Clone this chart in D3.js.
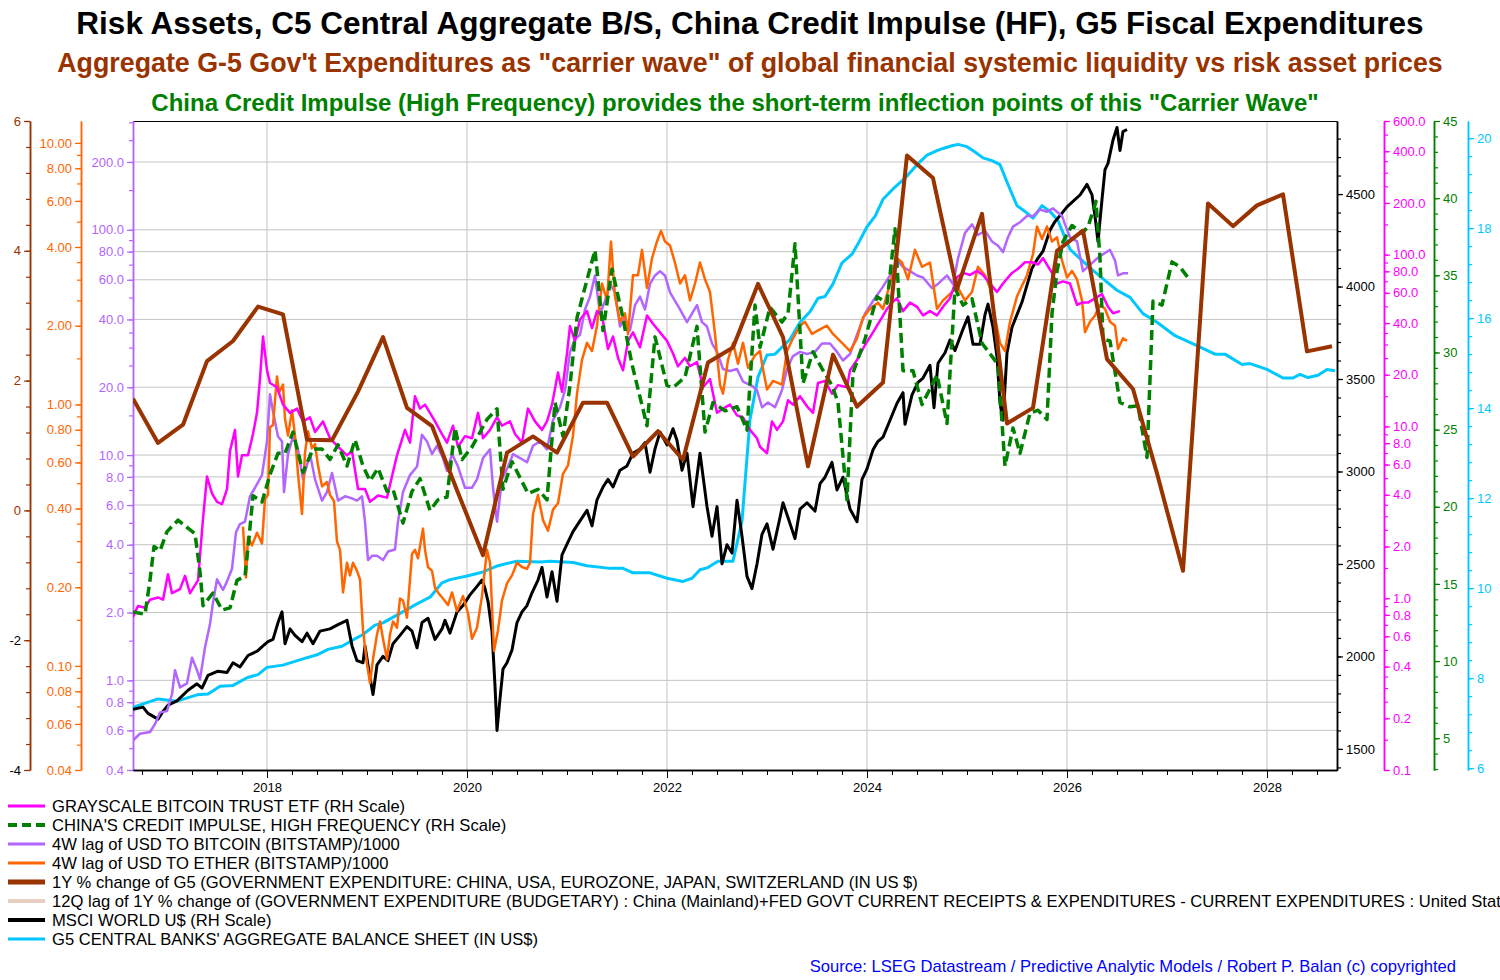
<!DOCTYPE html>
<html>
<head>
<meta charset="utf-8">
<script src="https://cdn.jsdelivr.net/npm/d3@7"></script>
<style>
body { margin: 0; background: #fff; }
text { font-family: "Liberation Sans", Arial, sans-serif; }
</style>
</head>
<body>
<script>
// dimensions
var W = 1500, H = 980;
var L = 133, R = 1337, T = 121, B = 770;

// ---- data (decimal year, value) ----
var yearLabels = [2018, 2020, 2022, 2024, 2026, 2028];

// 1Y % change of G5 government expenditure (left brown scale)
var fiscalG5 = [[2016.66,1.72],[2016.91,1.04],[2017.16,1.32],[2017.40,2.30],[2017.66,2.61],[2017.91,3.14],[2018.16,3.02],[2018.40,1.09],[2018.65,1.08],[2018.91,1.83],[2019.16,2.67],[2019.40,1.58],[2019.65,1.30],[2019.90,0.31],[2020.16,-0.69],[2020.40,0.89],[2020.66,1.14],[2020.90,0.89],[2021.16,1.66],[2021.40,1.66],[2021.66,0.83],[2021.91,1.22],[2022.16,0.78],[2022.41,2.28],[2022.66,2.51],[2022.91,3.49],[2023.16,2.67],[2023.41,0.68],[2023.66,2.40],[2023.90,1.60],[2024.16,1.97],[2024.40,5.47],[2024.66,5.12],[2024.90,3.41],[2025.15,4.57],[2025.40,1.34],[2025.66,1.58],[2025.90,4.00],[2026.16,4.31],[2026.40,2.33],[2026.66,1.87],[2026.90,0.57],[2027.16,-0.93],[2027.41,4.73],[2027.66,4.38],[2027.90,4.70],[2028.16,4.87],[2028.40,2.45],[2028.65,2.53]];

// G5 central banks' aggregate balance sheet (cyan scale)
var cbBalance = [[2016.66,7.35],[2016.91,7.54],[2017.10,7.49],[2017.30,7.63],[2017.41,7.65],[2017.53,7.82],[2017.66,7.84],[2017.80,8.01],[2017.91,8.08],[2018.00,8.24],[2018.16,8.29],[2018.36,8.43],[2018.50,8.52],[2018.61,8.64],[2018.75,8.71],[2018.86,8.85],[2018.96,8.97],[2019.08,9.18],[2019.16,9.23],[2019.33,9.44],[2019.50,9.65],[2019.63,9.80],[2019.75,10.12],[2019.83,10.19],[2020.00,10.27],[2020.16,10.36],[2020.31,10.50],[2020.50,10.60],[2020.73,10.58],[2020.83,10.60],[2021.06,10.57],[2021.20,10.50],[2021.43,10.44],[2021.56,10.44],[2021.66,10.34],[2021.83,10.34],[2022.00,10.22],[2022.16,10.15],[2022.25,10.22],[2022.33,10.41],[2022.40,10.45],[2022.51,10.60],[2022.66,10.60],[2022.75,11.49],[2022.83,13.75],[2022.91,14.69],[2023.00,15.18],[2023.08,15.20],[2023.23,15.53],[2023.33,15.91],[2023.43,16.14],[2023.51,16.44],[2023.58,16.48],[2023.66,16.76],[2023.75,17.23],[2023.85,17.42],[2023.91,17.65],[2024.00,18.03],[2024.08,18.26],[2024.16,18.64],[2024.26,18.87],[2024.38,19.11],[2024.50,19.41],[2024.60,19.62],[2024.70,19.72],[2024.76,19.77],[2024.85,19.83],[2024.91,19.86],[2025.00,19.81],[2025.08,19.69],[2025.16,19.56],[2025.25,19.50],[2025.33,19.41],[2025.41,18.97],[2025.50,18.50],[2025.58,18.37],[2025.66,18.22],[2025.75,18.50],[2025.83,18.37],[2025.91,18.17],[2025.98,17.79],[2026.03,17.53],[2026.13,17.32],[2026.26,17.06],[2026.40,16.80],[2026.50,16.62],[2026.63,16.46],[2026.76,16.10],[2026.90,15.91],[2027.08,15.61],[2027.30,15.39],[2027.48,15.20],[2027.58,15.20],[2027.75,14.97],[2027.83,14.99],[2028.00,14.86],[2028.16,14.67],[2028.26,14.67],[2028.33,14.75],[2028.41,14.68],[2028.51,14.73],[2028.60,14.86],[2028.68,14.83]];

// MSCI World U$ (black scale)
var msciWorld = [[2016.66,1714],[2016.76,1726],[2016.81,1692],[2016.91,1661],[2016.96,1703],[2017.01,1737],[2017.10,1760],[2017.21,1817],[2017.30,1852],[2017.35,1829],[2017.41,1898],[2017.51,1920],[2017.60,1913],[2017.66,1966],[2017.73,1943],[2017.81,2005],[2017.90,2028],[2017.96,2057],[2018.01,2080],[2018.06,2092],[2018.11,2183],[2018.15,2241],[2018.18,2069],[2018.23,2149],[2018.28,2114],[2018.35,2080],[2018.40,2126],[2018.46,2069],[2018.53,2137],[2018.63,2149],[2018.71,2172],[2018.80,2195],[2018.85,2057],[2018.90,1977],[2018.96,1966],[2018.98,2057],[2019.03,1886],[2019.06,1794],[2019.10,1954],[2019.16,2000],[2019.21,1977],[2019.26,2069],[2019.33,2114],[2019.40,2161],[2019.45,2137],[2019.50,2046],[2019.55,2183],[2019.61,2206],[2019.68,2092],[2019.75,2149],[2019.78,2195],[2019.83,2126],[2019.90,2241],[2019.96,2275],[2020.03,2333],[2020.10,2379],[2020.15,2413],[2020.18,2367],[2020.21,2298],[2020.25,2137],[2020.28,1841],[2020.30,1600],[2020.33,1772],[2020.36,1932],[2020.40,1966],[2020.45,2035],[2020.50,2183],[2020.55,2241],[2020.60,2275],[2020.65,2344],[2020.71,2413],[2020.75,2481],[2020.80,2321],[2020.85,2458],[2020.90,2298],[2020.95,2549],[2021.00,2607],[2021.06,2675],[2021.13,2733],[2021.20,2790],[2021.25,2706],[2021.30,2847],[2021.36,2916],[2021.41,2957],[2021.46,2916],[2021.53,3007],[2021.60,3030],[2021.66,3099],[2021.73,3122],[2021.78,3156],[2021.83,2996],[2021.88,3122],[2021.93,3213],[2022.00,3144],[2022.06,3231],[2022.10,3167],[2022.15,3007],[2022.20,3099],[2022.26,2810],[2022.33,3099],[2022.40,2810],[2022.45,2650],[2022.50,2810],[2022.55,2501],[2022.60,2604],[2022.65,2559],[2022.70,2844],[2022.75,2650],[2022.80,2433],[2022.85,2367],[2022.90,2500],[2022.95,2660],[2023.00,2717],[2023.06,2580],[2023.13,2751],[2023.16,2831],[2023.21,2751],[2023.28,2637],[2023.33,2797],[2023.40,2831],[2023.48,2786],[2023.53,2934],[2023.58,2969],[2023.65,3049],[2023.70,2900],[2023.76,2969],[2023.83,2797],[2023.90,2728],[2023.95,2957],[2024.00,3014],[2024.06,3117],[2024.11,3163],[2024.16,3186],[2024.23,3277],[2024.30,3369],[2024.36,3426],[2024.38,3255],[2024.45,3414],[2024.51,3482],[2024.56,3505],[2024.63,3574],[2024.67,3345],[2024.71,3585],[2024.78,3642],[2024.83,3711],[2024.88,3654],[2024.95,3756],[2025.01,3836],[2025.06,3688],[2025.13,3688],[2025.18,3848],[2025.21,3905],[2025.26,3780],[2025.30,3619],[2025.33,3369],[2025.36,3277],[2025.40,3642],[2025.45,3780],[2025.50,3848],[2025.55,3916],[2025.60,4008],[2025.65,4099],[2025.70,4145],[2025.76,4191],[2025.83,4305],[2025.88,4351],[2025.95,4397],[2026.00,4431],[2026.06,4460],[2026.13,4495],[2026.20,4552],[2026.25,4495],[2026.28,4380],[2026.31,4243],[2026.35,4471],[2026.38,4632],[2026.41,4666],[2026.46,4792],[2026.50,4860],[2026.53,4735],[2026.56,4838],[2026.60,4849]];

// China credit impulse, high frequency (green scale)
var creditImpulse = [[2016.66,13.18],[2016.78,13.04],[2016.83,15.23],[2016.87,17.43],[2016.93,17.15],[2017.00,18.39],[2017.11,19.13],[2017.20,18.66],[2017.28,18.25],[2017.33,15.78],[2017.36,13.59],[2017.46,14.41],[2017.55,13.31],[2017.63,13.45],[2017.70,15.23],[2017.78,15.51],[2017.82,17.97],[2017.86,20.72],[2017.95,20.31],[2018.03,22.09],[2018.11,23.46],[2018.18,23.46],[2018.26,24.84],[2018.36,22.23],[2018.46,23.74],[2018.55,23.74],[2018.63,23.06],[2018.71,24.02],[2018.80,22.64],[2018.88,24.35],[2018.96,22.64],[2019.03,21.68],[2019.11,22.50],[2019.20,21.00],[2019.26,21.13],[2019.36,18.94],[2019.45,21.00],[2019.53,21.82],[2019.63,19.76],[2019.71,20.45],[2019.80,20.63],[2019.88,25.11],[2019.95,23.06],[2020.05,23.88],[2020.20,25.66],[2020.30,26.35],[2020.36,21.13],[2020.45,22.92],[2020.61,20.86],[2020.71,21.13],[2020.80,20.45],[2020.88,26.76],[2020.96,24.57],[2021.03,27.86],[2021.10,32.25],[2021.20,34.71],[2021.28,36.63],[2021.36,31.42],[2021.45,35.40],[2021.55,32.52],[2021.65,29.23],[2021.80,25.25],[2021.88,31.01],[2022.00,27.86],[2022.06,27.72],[2022.18,28.40],[2022.30,31.69],[2022.38,24.84],[2022.46,26.76],[2022.58,26.21],[2022.70,26.48],[2022.80,24.97],[2022.88,33.07],[2022.93,30.33],[2023.03,32.93],[2023.15,31.97],[2023.21,32.52],[2023.28,37.05],[2023.36,27.99],[2023.46,30.05],[2023.55,28.95],[2023.65,27.86],[2023.71,26.76],[2023.80,20.45],[2023.86,28.68],[2023.98,30.87],[2024.10,33.62],[2024.20,33.20],[2024.28,38.01],[2024.36,28.82],[2024.46,28.82],[2024.55,26.62],[2024.70,28.54],[2024.80,25.39],[2024.88,34.16],[2024.96,33.07],[2025.05,33.48],[2025.15,30.60],[2025.23,29.91],[2025.31,29.23],[2025.38,22.64],[2025.46,25.11],[2025.53,23.46],[2025.63,26.07],[2025.71,26.26],[2025.80,25.66],[2025.85,32.52],[2025.90,35.27],[2025.96,37.18],[2026.05,38.23],[2026.15,37.73],[2026.21,38.14],[2026.29,39.79],[2026.33,36.09],[2026.36,30.87],[2026.43,30.74],[2026.53,26.76],[2026.63,26.48],[2026.71,26.54],[2026.80,23.19],[2026.86,33.33],[2026.95,33.07],[2027.05,35.87],[2027.13,35.54],[2027.21,34.85]];

// Grayscale Bitcoin Trust ETF (magenta log scale)
var gbtc = [[2016.66,0.78],[2016.71,0.90],[2016.78,0.88],[2016.83,0.98],[2016.91,1.01],[2016.96,0.98],[2017.01,1.38],[2017.05,1.07],[2017.13,1.13],[2017.18,1.35],[2017.23,1.07],[2017.31,1.27],[2017.36,2.90],[2017.40,5.11],[2017.45,4.07],[2017.50,3.64],[2017.55,3.53],[2017.60,4.32],[2017.63,7.19],[2017.68,9.55],[2017.71,5.11],[2017.75,6.79],[2017.81,6.79],[2017.86,9.03],[2017.90,12.0],[2017.93,18.9],[2017.96,33.4],[2018.00,21.2],[2018.03,17.9],[2018.10,16.9],[2018.16,13.4],[2018.23,12.0],[2018.30,12.7],[2018.36,10.7],[2018.43,11.3],[2018.48,9.29],[2018.56,10.7],[2018.63,8.53],[2018.71,7.62],[2018.80,6.79],[2018.85,7.19],[2018.91,4.32],[2018.98,4.32],[2019.03,3.64],[2019.11,3.96],[2019.20,3.85],[2019.26,5.42],[2019.30,6.79],[2019.38,9.55],[2019.43,8.05],[2019.48,15.0],[2019.53,12.7],[2019.58,13.4],[2019.63,12.0],[2019.68,10.7],[2019.75,9.03],[2019.80,8.05],[2019.86,10.1],[2019.91,7.62],[2019.98,8.78],[2020.05,8.53],[2020.11,12.0],[2020.16,8.53],[2020.23,9.55],[2020.30,11.3],[2020.35,10.1],[2020.43,10.7],[2020.48,9.03],[2020.55,8.05],[2020.61,12.7],[2020.68,10.7],[2020.75,9.55],[2020.80,10.7],[2020.85,13.4],[2020.91,20.6],[2020.95,15.9],[2021.00,26.6],[2021.03,38.4],[2021.08,31.5],[2021.13,41.9],[2021.20,46.9],[2021.25,37.4],[2021.30,46.9],[2021.35,44.3],[2021.41,28.2],[2021.46,33.4],[2021.51,25.1],[2021.56,21.2],[2021.61,31.5],[2021.66,35.3],[2021.73,28.9],[2021.80,44.3],[2021.86,39.6],[2021.93,35.3],[2022.00,31.5],[2022.06,26.6],[2022.11,22.4],[2022.18,25.1],[2022.23,22.4],[2022.30,23.7],[2022.36,16.9],[2022.43,18.9],[2022.50,12.0],[2022.56,12.7],[2022.63,13.4],[2022.70,11.6],[2022.76,11.3],[2022.83,9.55],[2022.90,8.53],[2022.93,7.62],[2023.00,6.98],[2023.05,10.7],[2023.10,9.55],[2023.16,10.7],[2023.21,14.2],[2023.26,13.4],[2023.33,15.0],[2023.40,13.1],[2023.46,12.0],[2023.51,17.9],[2023.58,18.4],[2023.65,15.5],[2023.71,17.4],[2023.80,16.9],[2023.83,21.2],[2023.90,24.4],[2023.98,29.8],[2024.06,35.3],[2024.15,43.1],[2024.20,48.3],[2024.25,52.6],[2024.30,55.7],[2024.36,46.9],[2024.43,52.6],[2024.50,49.7],[2024.56,44.3],[2024.63,46.9],[2024.70,44.3],[2024.76,49.7],[2024.83,55.7],[2024.90,73.9],[2024.96,78.3],[2025.03,76.2],[2025.10,80.5],[2025.16,76.2],[2025.23,67.9],[2025.30,60.7],[2025.36,67.9],[2025.45,78.3],[2025.51,82.8],[2025.58,90.3],[2025.65,90.3],[2025.71,87.7],[2025.76,95.5],[2025.85,78.3],[2025.90,67.9],[2025.96,69.9],[2026.03,67.9],[2026.10,51.1],[2026.15,52.6],[2026.21,52.6],[2026.28,55.7],[2026.35,58.9],[2026.41,49.7],[2026.46,45.6],[2026.53,46.9]];

// 4W lag of USD to Bitcoin /1000 (purple log scale)
var btc = [[2016.66,0.54],[2016.73,0.58],[2016.83,0.59],[2016.88,0.64],[2016.93,0.72],[2017.00,0.73],[2017.05,0.87],[2017.08,1.11],[2017.13,0.93],[2017.20,0.97],[2017.25,1.26],[2017.30,1.11],[2017.33,1.01],[2017.38,1.40],[2017.43,1.78],[2017.46,2.21],[2017.50,2.81],[2017.56,2.52],[2017.60,2.75],[2017.65,3.13],[2017.69,4.54],[2017.73,4.94],[2017.78,5.06],[2017.83,6.56],[2017.88,7.16],[2017.95,8.15],[2018.00,11.5],[2018.03,18.6],[2018.06,15.6],[2018.11,12.1],[2018.15,11.5],[2018.17,6.85],[2018.21,10.1],[2018.26,12.1],[2018.31,10.6],[2018.36,7.80],[2018.43,10.1],[2018.48,7.80],[2018.55,6.28],[2018.60,6.85],[2018.65,8.33],[2018.71,6.28],[2018.78,6.56],[2018.85,6.42],[2018.90,6.28],[2018.95,6.56],[2018.98,5.06],[2019.01,3.42],[2019.05,3.57],[2019.10,3.57],[2019.16,3.42],[2019.21,3.73],[2019.28,3.81],[2019.31,5.06],[2019.36,6.85],[2019.43,8.15],[2019.50,8.89],[2019.55,12.3],[2019.60,11.5],[2019.65,10.1],[2019.70,11.0],[2019.76,9.70],[2019.80,8.51],[2019.85,10.1],[2019.91,8.89],[2019.98,7.16],[2020.05,7.16],[2020.10,7.80],[2020.16,9.70],[2020.23,10.6],[2020.26,7.16],[2020.30,5.06],[2020.35,7.80],[2020.41,8.89],[2020.46,10.1],[2020.53,9.70],[2020.60,9.29],[2020.66,11.0],[2020.73,11.5],[2020.80,10.6],[2020.86,14.3],[2020.93,16.3],[2020.98,19.4],[2021.03,28.7],[2021.08,32.7],[2021.13,34.2],[2021.18,44.3],[2021.23,50.5],[2021.28,62.7],[2021.33,42.4],[2021.38,48.3],[2021.43,57.5],[2021.48,52.7],[2021.53,37.2],[2021.58,40.6],[2021.63,35.7],[2021.68,46.3],[2021.73,50.5],[2021.78,44.3],[2021.83,57.5],[2021.88,62.7],[2021.93,65.5],[2021.98,62.7],[2022.03,52.7],[2022.08,48.3],[2022.13,44.3],[2022.20,38.9],[2022.25,42.4],[2022.30,46.3],[2022.35,38.9],[2022.40,37.2],[2022.45,31.3],[2022.50,28.7],[2022.56,24.1],[2022.63,23.6],[2022.70,24.1],[2022.76,21.2],[2022.85,20.3],[2022.90,19.4],[2022.95,16.3],[2023.01,17.1],[2023.08,16.3],[2023.15,19.4],[2023.20,24.1],[2023.26,27.5],[2023.33,28.7],[2023.40,28.1],[2023.48,28.7],[2023.55,31.3],[2023.63,31.3],[2023.70,28.7],[2023.76,26.3],[2023.83,28.1],[2023.90,34.2],[2023.98,42.4],[2024.06,48.3],[2024.15,55.1],[2024.23,62.7],[2024.30,73.1],[2024.36,68.4],[2024.43,65.5],[2024.50,62.7],[2024.56,61.4],[2024.65,55.1],[2024.71,57.5],[2024.80,62.7],[2024.86,57.5],[2024.91,74.6],[2024.98,96.9],[2025.05,105.7],[2025.11,94.8],[2025.18,99.0],[2025.25,88.8],[2025.31,85.0],[2025.36,79.6],[2025.41,92.7],[2025.46,103.3],[2025.53,108.0],[2025.60,115.2],[2025.66,115.0],[2025.73,123.0],[2025.80,120.3],[2025.86,124.5],[2025.95,115.2],[2025.98,105.7],[2026.03,92.7],[2026.10,88.8],[2026.16,65.5],[2026.23,69.9],[2026.30,74.6],[2026.36,77.9],[2026.43,81.4],[2026.48,73.1],[2026.51,62.7],[2026.56,64.1],[2026.61,64.1]];

// 4W lag of USD to Ether /1000 (orange log scale)
var eth = [[2017.76,0.341],[2017.79,0.218],[2017.81,0.311],[2017.85,0.289],[2017.90,0.323],[2017.95,0.294],[2017.98,0.435],[2018.01,0.451],[2018.03,0.818],[2018.06,0.834],[2018.10,1.28],[2018.12,1.11],[2018.16,1.19],[2018.18,0.881],[2018.21,0.760],[2018.25,0.949],[2018.28,0.760],[2018.31,0.543],[2018.35,0.381],[2018.38,0.654],[2018.41,0.789],[2018.45,0.679],[2018.48,0.705],[2018.51,0.585],[2018.55,0.486],[2018.60,0.505],[2018.63,0.451],[2018.67,0.427],[2018.70,0.299],[2018.73,0.278],[2018.76,0.191],[2018.80,0.248],[2018.83,0.222],[2018.86,0.248],[2018.90,0.231],[2018.93,0.214],[2018.96,0.137],[2019.00,0.102],[2019.03,0.086],[2019.06,0.106],[2019.10,0.132],[2019.13,0.148],[2019.16,0.127],[2019.20,0.106],[2019.23,0.132],[2019.26,0.148],[2019.30,0.140],[2019.33,0.181],[2019.36,0.178],[2019.40,0.153],[2019.45,0.268],[2019.48,0.278],[2019.51,0.258],[2019.56,0.335],[2019.58,0.278],[2019.61,0.239],[2019.65,0.231],[2019.68,0.199],[2019.71,0.191],[2019.76,0.181],[2019.81,0.171],[2019.85,0.191],[2019.90,0.162],[2019.96,0.185],[2020.01,0.159],[2020.05,0.127],[2020.10,0.140],[2020.15,0.185],[2020.20,0.278],[2020.23,0.248],[2020.27,0.114],[2020.31,0.137],[2020.35,0.178],[2020.40,0.207],[2020.45,0.222],[2020.50,0.248],[2020.55,0.239],[2020.60,0.235],[2020.63,0.248],[2020.66,0.381],[2020.71,0.451],[2020.76,0.361],[2020.81,0.329],[2020.86,0.396],[2020.91,0.419],[2020.96,0.543],[2021.01,0.585],[2021.06,0.760],[2021.10,1.10],[2021.15,1.48],[2021.20,1.72],[2021.25,1.60],[2021.30,2.00],[2021.35,2.90],[2021.40,2.50],[2021.44,4.20],[2021.48,2.59],[2021.53,2.07],[2021.58,2.23],[2021.61,1.86],[2021.66,3.12],[2021.71,3.12],[2021.75,3.90],[2021.80,2.79],[2021.85,3.62],[2021.90,4.20],[2021.94,4.61],[2021.98,4.20],[2022.03,4.05],[2022.08,3.48],[2022.13,2.90],[2022.18,3.12],[2022.23,2.50],[2022.28,2.90],[2022.33,3.49],[2022.38,3.01],[2022.43,2.69],[2022.48,1.86],[2022.53,1.19],[2022.56,1.10],[2022.61,1.48],[2022.66,1.72],[2022.71,1.43],[2022.76,1.72],[2022.81,1.38],[2022.88,1.54],[2022.93,1.60],[2022.95,1.43],[2023.00,1.14],[2023.06,1.23],[2023.15,1.19],[2023.20,1.60],[2023.26,1.79],[2023.33,2.00],[2023.38,2.07],[2023.45,1.86],[2023.51,1.92],[2023.60,2.00],[2023.66,1.86],[2023.75,1.72],[2023.83,1.60],[2023.90,1.79],[2023.96,2.15],[2024.03,2.32],[2024.11,2.45],[2024.16,2.32],[2024.23,2.90],[2024.30,3.62],[2024.35,3.49],[2024.41,3.01],[2024.48,3.90],[2024.55,3.36],[2024.63,3.49],[2024.70,2.32],[2024.76,2.50],[2024.85,2.69],[2024.91,2.79],[2024.98,2.50],[2025.05,2.69],[2025.11,3.36],[2025.18,3.12],[2025.23,2.79],[2025.28,2.15],[2025.33,1.72],[2025.38,1.60],[2025.43,2.07],[2025.50,2.59],[2025.60,3.12],[2025.66,3.76],[2025.70,4.79],[2025.75,4.29],[2025.80,4.79],[2025.85,4.20],[2025.90,4.36],[2025.95,3.56],[2026.00,3.06],[2026.05,3.24],[2026.10,3.01],[2026.15,2.50],[2026.18,1.89],[2026.23,2.07],[2026.28,2.19],[2026.33,2.40],[2026.38,2.32],[2026.43,2.07],[2026.48,2.00],[2026.51,1.63],[2026.56,1.79],[2026.60,1.75]];

// axis tick labels
var brownTicks = [-4, -2, 0, 2, 4, 6];
var ethTicks = [0.04, 0.06, 0.08, 0.1, 0.2, 0.4, 0.6, 0.8, 1, 2, 4, 6, 8, 10];
var btcTicks = [0.4, 0.6, 0.8, 1, 2, 4, 6, 8, 10, 20, 40, 60, 80, 100, 200];
var msciTicks = [1500, 2000, 2500, 3000, 3500, 4000, 4500];
var gbtcTicks = [0.1, 0.2, 0.4, 0.6, 0.8, 1, 2, 4, 6, 8, 10, 20, 40, 60, 80, 100, 200, 400, 600];
var ciTicks = [5, 10, 15, 20, 25, 30, 35, 40, 45];
var cbTicks = [6, 8, 10, 12, 14, 16, 18, 20];

var legendLabels = [
  "GRAYSCALE BITCOIN TRUST ETF (RH Scale)",
  "CHINA'S CREDIT IMPULSE, HIGH FREQUENCY (RH Scale)",
  "4W lag of USD TO BITCOIN (BITSTAMP)/1000",
  "4W lag of USD TO ETHER (BITSTAMP)/1000",
  "1Y % change of G5 (GOVERNMENT EXPENDITURE: CHINA, USA, EUROZONE, JAPAN, SWITZERLAND (IN US $)",
  "12Q lag of 1Y % change of (GOVERNMENT EXPENDITURE (BUDGETARY) : China (Mainland)+FED GOVT CURRENT RECEIPTS & EXPENDITURES - CURRENT EXPENDITURES : United States",
  "MSCI WORLD U$ (RH Scale)",
  "G5 CENTRAL BANKS' AGGREGATE BALANCE SHEET (IN US$)"
];

// colours
var cMag = "#ff00ff", cGreen = "#008000", cPurple = "#b366ff", cOrange = "#ff6600",
    cBrown = "#993300", cBeige = "#e6cfc0", cBlack = "#000000", cCyan = "#00c8ff";
var legendStyle = [
  {c: cMag, w: 3}, {c: cGreen, w: 4, dash: "9,5"}, {c: cPurple, w: 3}, {c: cOrange, w: 3},
  {c: cBrown, w: 5}, {c: cBeige, w: 4}, {c: cBlack, w: 4}, {c: cCyan, w: 3}
];

var svg = d3.select("body").append("svg").attr("width", W).attr("height", H);
svg.append("rect").attr("width", W).attr("height", H).attr("fill", "#fff");

// scales
var x = d3.scaleLinear().domain([2016.66, 2028.70]).range([L, R]);
var yBrown = d3.scaleLinear().domain([-4, 6]).range([B, T]);
var yEth = d3.scaleLog().domain([0.04, 12.13]).range([B, T]);
var yBtc = d3.scaleLog().domain([0.4, 304]).range([B, T]);
var yMsci = d3.scaleLinear().domain([1386, 4895]).range([B, T]);
var yGbtc = d3.scaleLog().domain([0.1, 600]).range([B, T]);
var yCi = d3.scaleLinear().domain([2.94, 45]).range([B, T]);
var yCb = d3.scaleLinear().domain([5.96, 20.38]).range([B, T]);

// titles
svg.append("text").attr("x", 750).attr("y", 34).attr("text-anchor", "middle")
  .attr("font-size", "31.5px").attr("font-weight", "bold").attr("fill", "#000")
  .text("Risk Assets, C5 Central Aggregate B/S, China Credit Impulse (HF), G5 Fiscal Expenditures");
svg.append("text").attr("x", 750).attr("y", 72).attr("text-anchor", "middle")
  .attr("font-size", "26.8px").attr("font-weight", "bold").attr("fill", cBrown)
  .text("Aggregate G-5 Gov't Expenditures as \"carrier wave\" of global financial systemic liquidity vs risk asset prices");
svg.append("text").attr("x", 735).attr("y", 111).attr("text-anchor", "middle")
  .attr("font-size", "24px").attr("font-weight", "bold").attr("fill", cGreen)
  .text("China Credit Impulse (High Frequency) provides the short-term inflection points of this \"Carrier Wave\"");

// grid
var grid = svg.append("g");
grid.selectAll("line.h").data(btcTicks.filter(function(d) { return d > 0.4; })).enter()
  .append("line").attr("x1", L).attr("x2", R)
  .attr("y1", function(d) { return yBtc(d); }).attr("y2", function(d) { return yBtc(d); })
  .attr("stroke", "#c4c4c4").attr("stroke-width", 1);
grid.selectAll("line.v").data(yearLabels).enter()
  .append("line").attr("y1", T).attr("y2", B)
  .attr("x1", function(d) { return x(d); }).attr("x2", function(d) { return x(d); })
  .attr("stroke", "#c4c4c4").attr("stroke-width", 1);

// frame top
svg.append("line").attr("x1", L).attr("x2", R).attr("y1", T + 0.5).attr("y2", T + 0.5).attr("stroke", "#000");

// generic vertical axis
function vAxis(scale, xPos, side, major, minor, fmt, color, labelColor) {
  var mk = side === "left" ? d3.axisLeft : d3.axisRight;
  var g = svg.append("g").attr("transform", "translate(" + xPos + ",0)");
  g.append("g").call(mk(scale).tickValues(minor).tickSize(4).tickSizeOuter(0).tickFormat(""));
  var gm = g.append("g").call(mk(scale).tickValues(major).tickSize(6).tickSizeOuter(0).tickPadding(3).tickFormat(fmt));
  g.selectAll("path.domain").attr("stroke", color).attr("stroke-width", 1.5);
  g.selectAll(".tick line").attr("stroke", color).attr("stroke-width", 1.2);
  gm.selectAll(".tick text").attr("font-size", "13px")
    .attr("font-family", "'Liberation Sans', Arial, sans-serif")
    .attr("fill", labelColor || color);
  return gm;
}
function logMinor(lo, hi) {
  var out = [];
  for (var e = -2; e <= 3; e++) {
    [1, 1.5, 2, 2.5, 3, 3.5, 4, 5, 6, 7, 8, 9].forEach(function(m) {
      var v = m * Math.pow(10, e);
      if (v >= lo && v <= hi) out.push(v);
    });
  }
  return out;
}
var plainInt = function(d) { return String(d); };

var gb = vAxis(yBrown, 30, "left", brownTicks, d3.range(-4, 6.01, 0.4), plainInt, cBrown);
gb.selectAll(".tick text").attr("fill", function(d) { return d < 0 ? "#000" : cBrown; });
vAxis(yEth, 81, "left", ethTicks, logMinor(0.04, 12), d3.format(".2f"), cOrange);
vAxis(yBtc, L, "left", btcTicks, logMinor(0.4, 300), d3.format(".1f"), cPurple);
vAxis(yMsci, R, "right", msciTicks, d3.range(1400, 4900, 100), plainInt, "#000");
vAxis(yGbtc, 1384, "right", gbtcTicks, logMinor(0.1, 600), d3.format(".1f"), cMag);
vAxis(yCi, 1434, "right", ciTicks, d3.range(3, 45, 1), plainInt, cGreen);
vAxis(yCb, 1468, "right", cbTicks, d3.range(6, 20.4, 0.4), plainInt, cCyan);

// x axis
var gx = svg.append("g").attr("transform", "translate(0," + B + ")");
gx.append("g").call(d3.axisBottom(x).tickValues(d3.range(2016.75, 2028.7, 0.25)).tickSize(5).tickSizeOuter(0).tickFormat(""));
gx.append("g").call(d3.axisBottom(x).tickValues(yearLabels).tickSize(8).tickSizeOuter(0).tickPadding(5).tickFormat(plainInt));
gx.selectAll("path.domain").attr("stroke", "#000").attr("stroke-width", 1.5);
gx.selectAll(".tick line").attr("stroke", "#000");
gx.selectAll(".tick text").attr("font-size", "13px").attr("fill", "#000")
  .attr("font-family", "'Liberation Sans', Arial, sans-serif");

// series
svg.append("clipPath").attr("id", "plot").append("rect")
  .attr("x", L).attr("y", T).attr("width", R - L).attr("height", B - T);
var plot = svg.append("g").attr("clip-path", "url(#plot)");
function drawLine(data, yScale, color, width, dash) {
  var line = d3.line().x(function(d) { return x(d[0]); }).y(function(d) { return yScale(d[1]); });
  plot.append("path").datum(data).attr("d", line)
    .attr("fill", "none").attr("stroke", color).attr("stroke-width", width)
    .attr("stroke-linejoin", "round").attr("stroke-dasharray", dash || null);
}
drawLine(cbBalance, yCb, cCyan, 3);
drawLine(msciWorld, yMsci, cBlack, 3);
drawLine(btc, yBtc, cPurple, 2.5);
drawLine(eth, yEth, cOrange, 2.5);
drawLine(gbtc, yGbtc, cMag, 2.5);
drawLine(creditImpulse, yCi, cGreen, 3.5, "10,5");
drawLine(fiscalG5, yBrown, cBrown, 4);

// legend
var lg = svg.append("g");
legendLabels.forEach(function(label, i) {
  var y = 806 + i * 19;
  var st = legendStyle[i];
  lg.append("line").attr("x1", 8).attr("x2", 45).attr("y1", y).attr("y2", y)
    .attr("stroke", st.c).attr("stroke-width", st.w).attr("stroke-dasharray", st.dash || null);
  lg.append("text").attr("x", 52).attr("y", y + 5.5).attr("font-size", "16.6px").attr("fill", "#000")
    .text(label);
});

svg.append("text").attr("x", 1456).attr("y", 972).attr("text-anchor", "end")
  .attr("font-size", "16.6px").attr("fill", "#0000ff")
  .text("Source: LSEG Datastream / Predictive Analytic Models / Robert P. Balan (c) copyrighted");
</script>
</body>
</html>
